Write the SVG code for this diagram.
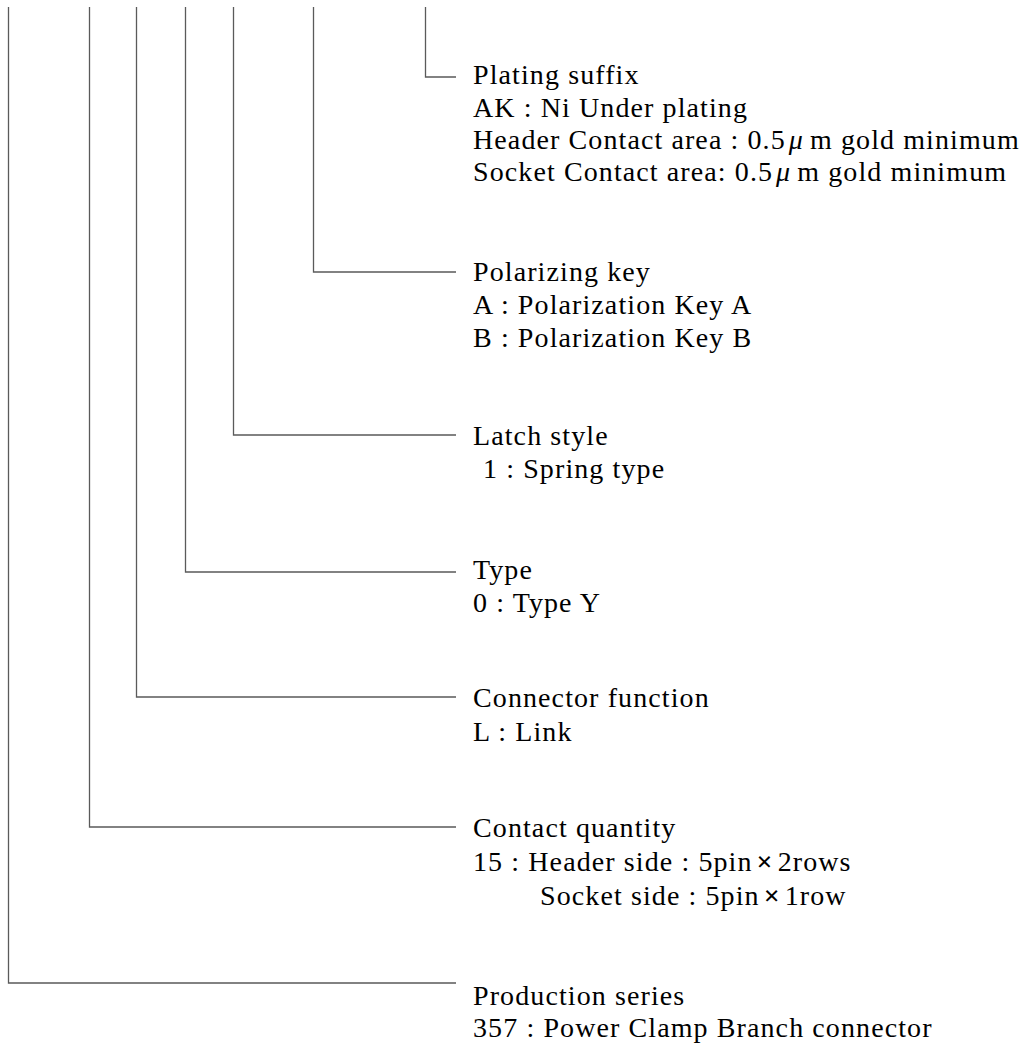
<svg xmlns="http://www.w3.org/2000/svg" width="1031" height="1044" viewBox="0 0 1031 1044">
<style>
.t{font-family:"Liberation Serif","Noto Sans CJK JP",serif;font-size:28px;letter-spacing:1.1px;fill:#000}
.mu{font-style:italic}
.x{font-weight:bold}
.c{fill:none;stroke:#5a5a5a;stroke-width:1.3}
</style>
<rect width="1031" height="1044" fill="#fff"/>
<g id="connectors">
<path class="c" d="M425.5 7V77H456"/>
<path class="c" d="M313.5 7V272H456"/>
<path class="c" d="M233.5 7V435H456"/>
<path class="c" d="M185.5 7V572H456"/>
<path class="c" d="M136.5 7V697H456"/>
<path class="c" d="M89.5 7V827H456"/>
<path class="c" d="M8.5 7V983H456"/>
</g>
<g id="plating-suffix">
<text class="t" x="473" y="84">Plating suffix</text>
<text class="t" x="473" y="117">AK : Ni Under plating</text>
<text class="t" x="473" y="149">Header Contact area : 0.5<tspan class="mu" dx="3">μ</tspan><tspan dx="6">m gold minimum</tspan></text>
<text class="t" x="473" y="181">Socket Contact area: 0.5<tspan class="mu" dx="3">μ</tspan><tspan dx="6">m gold minimum</tspan></text>
</g>
<g id="polarizing-key">
<text class="t" x="473" y="281">Polarizing key</text>
<text class="t" x="473" y="314">A : Polarization Key A</text>
<text class="t" x="473" y="347">B : Polarization Key B</text>
</g>
<g id="latch-style">
<text class="t" x="473" y="445">Latch style</text>
<text class="t" x="483" y="478">1 : Spring type</text>
</g>
<g id="type">
<text class="t" x="473" y="579">Type</text>
<text class="t" x="473" y="612">0 : Type Y</text>
</g>
<g id="connector-function">
<text class="t" x="473" y="707">Connector function</text>
<text class="t" x="473" y="741">L : Link</text>
</g>
<g id="contact-quantity">
<text class="t" x="473" y="837">Contact quantity</text>
<text class="t" x="473" y="871">15 : Header side : 5pin<tspan class="x" dx="4">×</tspan><tspan dx="4">2rows</tspan></text>
<text class="t" x="540" y="905">Socket side : 5pin<tspan class="x" dx="4">×</tspan><tspan dx="4">1row</tspan></text>
</g>
<g id="production-series">
<text class="t" x="473" y="1005">Production series</text>
<text class="t" x="473" y="1037">357 : Power Clamp Branch connector</text>
</g>
</svg>
